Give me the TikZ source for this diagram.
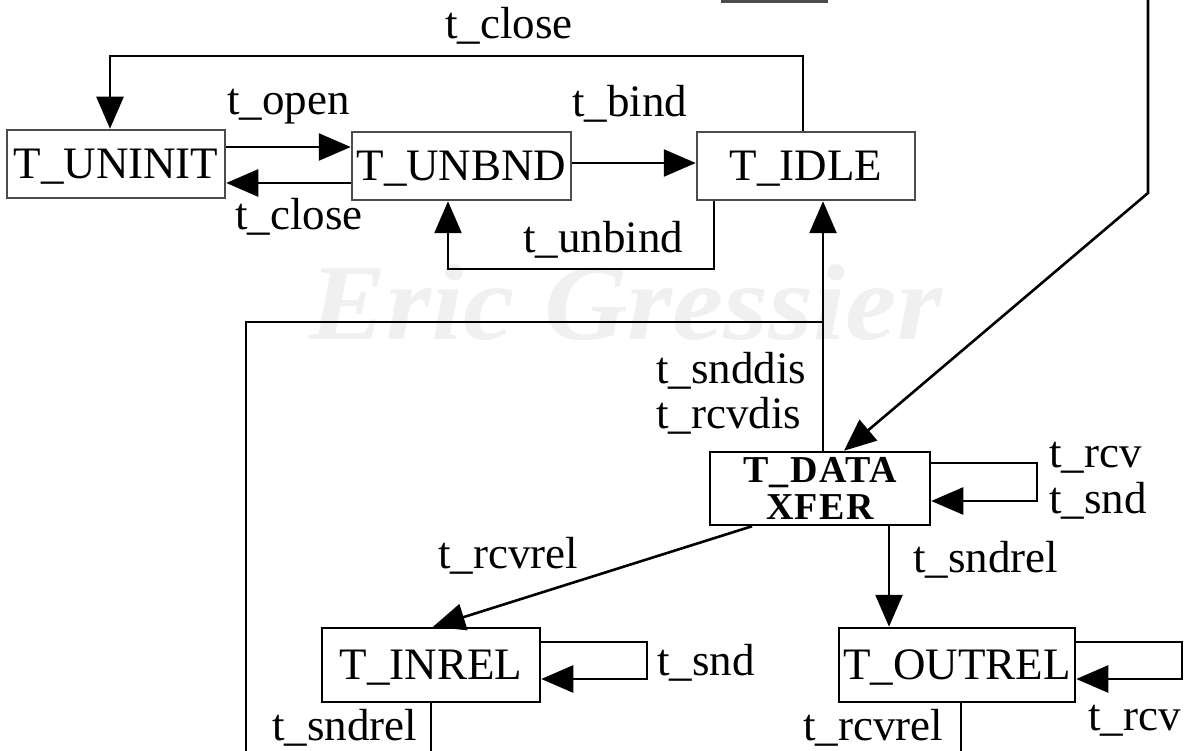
\documentclass[tikz,border=0pt]{standalone}
\usepackage{fontspec}
\setmainfont{Liberation Serif}
\usetikzlibrary{arrows.meta}
\begin{document}
\begin{tikzpicture}[x=1pt,y=-1pt]
\tikzset{
  conn/.style={line width=2.6pt, draw=black},
  arr/.style={-{Triangle[length=32pt,width=27pt]}},
  upper/.style={draw=black!70, line width=2.5pt, minimum width=218pt,
    minimum height=68pt, inner sep=0pt, text depth=0pt,
    font=\fontsize{45}{50}\selectfont},
  lower/.style={upper, draw=black},
  lbl/.style={anchor=base west, inner sep=0pt, font=\fontsize{45}{50}\selectfont},
}
\useasboundingbox (0,0) rectangle (1186,751);
\clip (0,0) rectangle (1186,751);
\fill[white] (0,0) rectangle (1186,751);

% faint author watermark
\node[anchor=base, inner sep=0pt, text=black!6, xscale=1.07,
      text height=70pt, text depth=0pt,
      font=\fontsize{108}{110}\selectfont\bfseries\itshape] (wm) at (626,340) {Eric Gressier};

% states
\node[upper] (uninit) at (116,164) {T\_UNINIT};
\node[upper, minimum width=219pt] (unbnd) at (461.5,166) {T\_UNBND};
\node[upper] (idle) at (806,166) {T\_IDLE};
\node[lower, minimum width=220pt, minimum height=73pt, align=center,
      font=\fontsize{38}{37}\selectfont\bfseries\addfontfeature{LetterSpace=4}] (data) at (820,488.5) {T\_DATA\\XFER};
\node[lower, minimum height=74pt] (inrel) at (431,665) {T\_INREL};
\node[lower, minimum width=236pt, minimum height=74pt] (outrel) at (957,665) {T\_OUTREL};
% state partly above the frame
\draw[draw=black!70, line width=2.5pt] (722,-40) rectangle (827,1.5);

% routing points
\coordinate (tcR) at (803,56);
\coordinate (tcL) at (110,56);
\coordinate (rOpen) at (0,147);
\coordinate (rClose) at (0,183);
\coordinate (rBind) at (0,163);
\coordinate (ubR) at (714,269);
\coordinate (ubL) at (448,269);
\coordinate (upX) at (823,0);
\coordinate (jL) at (246,322);
\coordinate (jB) at (246,760);
\coordinate (dTop) at (1148,-10);
\coordinate (dBend) at (1148,193);
\coordinate (dTip) at (844,0);
\coordinate (lpA) at (0,463);
\coordinate (lpB) at (0,501);
\coordinate (lpX) at (1037,0);
\coordinate (rcvS) at (752,0);
\coordinate (rcvE) at (433,0);
\coordinate (sndX) at (889,0);
\coordinate (ilA) at (0,642);
\coordinate (ilB) at (0,679);
\coordinate (ilX) at (647,0);
\coordinate (olX) at (1182,0);
\coordinate (inX) at (431,760);
\coordinate (outX) at (961,760);

% transitions
\draw[conn, arr] (tcR |- idle.north) -- (tcR) -- (tcL) -- (tcL |- uninit.north);
\draw[conn, arr] (uninit.east |- rOpen) -- (unbnd.west |- rOpen);
\draw[conn, arr] (unbnd.west |- rClose) -- (uninit.east |- rClose);
\draw[conn, arr] (unbnd.east |- rBind) -- (idle.west |- rBind);
\draw[conn, arr] (ubR |- idle.south) -- (ubR) -- (ubL) -- (ubL |- unbnd.south);
\draw[conn, arr] (upX |- data.north) -- (upX |- idle.south);
\draw[conn] (jB) -- (jL) -- (jL -| upX);
\draw[conn, arr] (dTop) -- (dBend) -- (dTip |- data.north);
\draw[conn, arr] (data.east |- lpA) -- (lpX |- lpA) -- (lpX |- lpB) -- (data.east |- lpB);
\draw[conn, arr] (rcvS |- data.south) -- (rcvE |- inrel.north);
\draw[conn, arr] (sndX |- data.south) -- (sndX |- outrel.north);
\draw[conn, arr] (inrel.east |- ilA) -- (ilX |- ilA) -- (ilX |- ilB) -- (inrel.east |- ilB);
\draw[conn, arr] (outrel.east |- ilA) -- (olX |- ilA) -- (olX |- ilB) -- (outrel.east |- ilB);
\draw[conn] (inX |- inrel.south) -- (inX);
\draw[conn] (outX |- outrel.south) -- (outX);

% transition labels
\node[lbl] (l1) at (445,39) {t\_close};
\node[lbl] (l2) at (227,115) {t\_open};
\node[lbl] (l3) at (235,230) {t\_close};
\node[lbl] (l4) at (572,117) {t\_bind};
\node[lbl] (l5) at (523,253) {t\_unbind};
\node[lbl] (l6) at (656,383) {t\_snddis};
\node[lbl] (l7) at (656,428) {t\_rcvdis};
\node[lbl] (l8) at (1049,467) {t\_rcv};
\node[lbl] (l9) at (1049,513) {t\_snd};
\node[lbl] (l10) at (438,568) {t\_rcvrel};
\node[lbl] (l11) at (913,572) {t\_sndrel};
\node[lbl] (l12) at (657,675) {t\_snd};
\node[lbl] (l13) at (272,740) {t\_sndrel};
\node[lbl] (l14) at (803,740) {t\_rcvrel};
\node[lbl] (l15) at (1088,730) {t\_rcv};
\end{tikzpicture}
\end{document}
